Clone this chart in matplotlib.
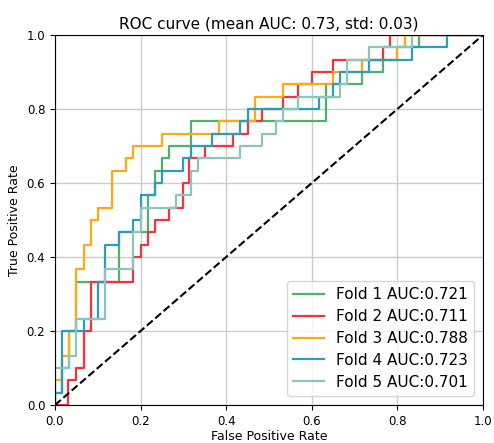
import matplotlib
matplotlib.use("Agg")
import matplotlib.pyplot as plt

# step points (fpr, tpr)
fold1_fpr = [0, 0, 0.017, 0.017, 0.033, 0.033, 0.05, 0.05, 0.15, 0.15, 0.217, 0.217, 0.233, 0.233, 0.25, 0.25,
             0.267, 0.267, 0.317, 0.317, 0.633, 0.633, 0.717, 0.717, 0.767, 0.767, 0.8, 0.8, 0.85, 0.85, 1]
fold1_tpr = [0, 0.033, 0.033, 0.1, 0.1, 0.2, 0.2, 0.333, 0.333, 0.467, 0.467, 0.567, 0.567, 0.633, 0.633, 0.667,
             0.667, 0.7, 0.7, 0.767, 0.767, 0.867, 0.867, 0.9, 0.9, 0.933, 0.933, 0.967, 0.967, 1, 1]

fold2_fpr = [0, 0.031, 0.031, 0.05, 0.05, 0.067, 0.067, 0.083, 0.083, 0.183, 0.183, 0.2, 0.2, 0.217, 0.217, 0.233,
             0.233, 0.267, 0.267, 0.3, 0.3, 0.314, 0.314, 0.35, 0.35, 0.417, 0.417, 0.45, 0.45, 0.483, 0.483, 0.533,
             0.533, 0.567, 0.567, 0.6, 0.6, 0.65, 0.65, 0.767, 0.767, 0.783, 0.783, 1]
fold2_tpr = [0, 0, 0.067, 0.067, 0.1, 0.1, 0.2, 0.2, 0.333, 0.333, 0.4, 0.4, 0.433, 0.433, 0.467, 0.467,
             0.5, 0.5, 0.533, 0.533, 0.6, 0.6, 0.667, 0.667, 0.7, 0.7, 0.733, 0.733, 0.767, 0.767, 0.8, 0.8,
             0.833, 0.833, 0.867, 0.867, 0.9, 0.9, 0.933, 0.933, 0.967, 0.967, 1, 1]

fold3_fpr = [0, 0, 0.017, 0.017, 0.033, 0.033, 0.05, 0.05, 0.067, 0.067, 0.083, 0.083, 0.1, 0.1, 0.133, 0.133,
             0.167, 0.167, 0.183, 0.183, 0.25, 0.25, 0.383, 0.383, 0.467, 0.467, 0.533, 0.533, 0.65, 0.65,
             0.717, 0.717, 0.8, 0.8, 0.817, 0.817, 1]
fold3_tpr = [0, 0.067, 0.067, 0.133, 0.133, 0.2, 0.2, 0.367, 0.367, 0.433, 0.433, 0.5, 0.5, 0.533, 0.533, 0.633,
             0.633, 0.667, 0.667, 0.7, 0.7, 0.733, 0.733, 0.767, 0.767, 0.833, 0.833, 0.867, 0.867, 0.9,
             0.9, 0.933, 0.933, 0.967, 0.967, 1, 1]

fold4_fpr = [0, 0, 0.017, 0.017, 0.067, 0.067, 0.1, 0.1, 0.117, 0.117, 0.15, 0.15, 0.183, 0.183, 0.2, 0.2,
             0.233, 0.233, 0.25, 0.25, 0.3, 0.3, 0.317, 0.317, 0.367, 0.367, 0.433, 0.433, 0.45, 0.45, 0.617,
             0.617, 0.65, 0.65, 0.667, 0.667, 0.733, 0.733, 0.833, 0.833, 0.917, 0.917, 1]
fold4_tpr = [0, 0.033, 0.033, 0.2, 0.2, 0.233, 0.233, 0.333, 0.333, 0.433, 0.433, 0.467, 0.467, 0.5, 0.5, 0.567,
             0.567, 0.6, 0.6, 0.633, 0.633, 0.667, 0.667, 0.7, 0.7, 0.733, 0.733, 0.767, 0.767, 0.8, 0.8,
             0.833, 0.833, 0.867, 0.867, 0.9, 0.9, 0.933, 0.933, 0.967, 0.967, 1, 1]

fold5_fpr = [0, 0, 0.033, 0.033, 0.05, 0.05, 0.117, 0.117, 0.183, 0.183, 0.2, 0.2, 0.283, 0.283, 0.317, 0.317,
             0.333, 0.333, 0.433, 0.433, 0.483, 0.483, 0.517, 0.517, 0.533, 0.533, 0.567, 0.567, 0.667, 0.667,
             0.683, 0.683, 0.733, 0.733, 0.833, 0.833, 1]
fold5_tpr = [0, 0.1, 0.1, 0.133, 0.133, 0.233, 0.233, 0.367, 0.367, 0.467, 0.467, 0.533, 0.533, 0.567, 0.567, 0.633,
             0.633, 0.667, 0.667, 0.7, 0.7, 0.733, 0.733, 0.767, 0.767, 0.8, 0.8, 0.833, 0.833, 0.867,
             0.867, 0.933, 0.933, 0.967, 0.967, 1, 1]

fold_names = ["Fold 1", "Fold 2", "Fold 3", "Fold 4", "Fold 5"]
fold_auc = [0.721, 0.711, 0.788, 0.723, 0.701]
mean_auc = 0.73
std_auc = 0.03
colors = ["#4bb36b", "#f4333f", "#ffaa12", "#2b9db6", "#8cc5bd"]

curves = [(fold1_fpr, fold1_tpr), (fold2_fpr, fold2_tpr), (fold3_fpr, fold3_tpr),
          (fold4_fpr, fold4_tpr), (fold5_fpr, fold5_tpr)]

fig = plt.figure(figsize=(4.94, 4.43), dpi=100)
ax = fig.add_axes([0.1113, 0.0858, 0.8664, 0.8352])

for i in range(len(curves)):
  fpr, tpr = curves[i]
  ax.plot(fpr, tpr, color=colors[i], lw=1.6, label=fold_names[i] + " AUC:" + "%.3f" % fold_auc[i])

ax.plot([0, 1], [0, 1], "k--", lw=1.5)
ax.set_xlim(0, 1)
ax.set_ylim(0, 1)
ax.grid(True, color="#cccccc", lw=1)
ax.set_axisbelow(True)
ax.tick_params(labelsize=8.5)
ax.set_xlabel("False Positive Rate", fontsize=9, labelpad=2)
ax.set_ylabel("True Positive Rate", fontsize=9, labelpad=4)
ax.set_title("ROC curve (mean AUC: %.2f, std: %.2f)" % (mean_auc, std_auc), fontsize=11, pad=5)
ax.legend(loc="lower right", fontsize=11, labelspacing=0.45, borderaxespad=0.6)

fig.savefig("out.png", dpi=100)
